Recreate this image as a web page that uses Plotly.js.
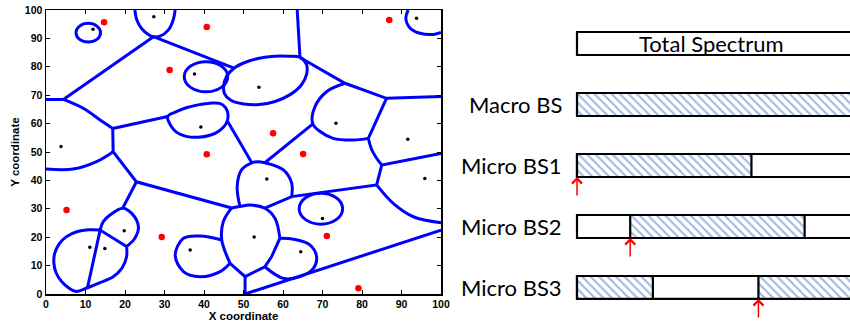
<!DOCTYPE html>
<html>
<head>
<meta charset="utf-8">
<script src="https://cdn.plot.ly/plotly-3.0.1.min.js"></script>
<style>
  html, body { margin: 0; padding: 0; background: #fff; }
  #chart { width: 850px; height: 322px; }
</style>
</head>
<body>
<div id="chart"></div>
<script>
// ---- Network layout (coordinates in the 100 x 100 area) ----
// Base stations (black) and users (red)
const bsX = [11.9, 27.3, 93.8, 37.6, 53.9, 39.2, 73.4, 3.8, 91.6, 55.9, 95.9, 70.0, 19.8, 11.1, 14.9, 36.5, 52.7, 64.5];
const bsY = [93.2, 97.6, 97.1, 77.5, 72.8, 58.8, 60.1, 51.9, 54.5, 40.5, 40.7, 26.6, 22.3, 16.5, 16.0, 15.5, 20.1, 14.9];
const ueX = [14.7, 40.7, 86.9, 31.3, 57.5, 40.7, 65.1, 5.2, 29.3, 71.1, 79.1];
const ueY = [95.7, 94.0, 96.5, 78.9, 56.6, 49.2, 49.3, 29.6, 20.1, 20.4, 2.0];

// Isolated coverage ellipses: centre and semi-axes
const cellCx = [10.7, 40.5, 69.6];
const cellCy = [92.0, 76.5, 30.05];
const cellRx = [3.1, 5.5, 5.5];
const cellRy = [3.3, 5.3, 5.45];

// Straight cell boundaries, as [x, y] polylines
const straightEdges = [
  [[27.2, 90.6], [4.4, 68.5], [0, 68.5]],
  [[27.2, 90.6], [47.6, 79.5]],
  [[63.6, 100], [64.3, 83.3]],
  [[64.3, 83.3], [75.7, 74.2], [86.2, 68.9], [100, 69.5]],
  [[86.2, 68.9], [81.6, 54.8]],
  [[100, 49.5], [85.0, 45.4], [83.7, 38.4], [62.2, 34.3], [55.4, 30.2]],
  [[67.5, 59.8], [55.4, 46.2]],
  [[46.0, 60.7], [52.1, 46.2]],
  [[30.8, 62.5], [16.9, 58.3], [17.0, 50.1], [22.9, 39.5], [47.0, 30.3]],
  [[22.9, 39.5], [19.4, 30.2]],
  [[10.5, 2.2], [13.7, 22.5], [20.4, 16.7]],
  [[50.4, 6.1], [50.4, 0], [100, 22.5]],
  [[59.2, 19.6], [57.1, 13.1], [55.4, 9.6], [50.4, 6.1], [46.6, 10.8]]
];

// Curved cell boundaries, smoothed through the listed points
const curvedEdges = [
  [[22.5, 100], [23.0, 96.5], [24.2, 93.5], [25.9, 91.4], [27.2, 90.6], [28.9, 90.8], [31.0, 93.0], [32.2, 96.5], [32.7, 100]],
  [[91.7, 100], [91.1, 97.1], [92.2, 93.6], [94.7, 91.8], [98.1, 91.4], [100, 92.1]],
  [[64.3, 83.3], [65.9, 81.0], [66.0, 77.5], [64.6, 73.5], [61.8, 70.2], [58.0, 67.8], [54.0, 66.7], [50.0, 66.9],
   [46.8, 68.2], [45.2, 70.5], [45.0, 73.5], [45.8, 76.8], [47.6, 79.5], [50.5, 81.6], [54.0, 83.0], [57.8, 83.7],
   [61.5, 83.7], [64.3, 83.3]],
  [[30.8, 62.5], [33.0, 64.2], [35.5, 65.6], [38.5, 66.6], [41.5, 67.2], [44.0, 67.1], [45.5, 65.5], [46.1, 62.8],
   [45.6, 60.0], [44.0, 57.6], [41.5, 55.9], [38.5, 55.2], [35.5, 55.5], [33.0, 57.0], [31.5, 59.5], [30.8, 62.5]],
  [[75.7, 74.2], [71.1, 71.3], [68.1, 66.0], [67.5, 60.1], [69.4, 57.2], [72.7, 54.8], [77.8, 54.2], [81.6, 54.8]],
  [[81.6, 54.8], [82.5, 50.7], [83.7, 47.8], [85.0, 45.4]],
  [[83.7, 38.4], [87.9, 31.9], [93.0, 27.2], [100, 25.1]],
  [[4.4, 68.5], [9.4, 65.4], [13.7, 61.3], [16.9, 58.3]],
  [[0, 44.0], [6.9, 44.0], [12.8, 46.6], [17.0, 50.1]],
  [[62.2, 34.3], [62.2, 39.0], [60.1, 43.7], [55.4, 46.2], [53.7, 46.6], [52.1, 46.2], [49.5, 43.7], [48.4, 37.8], [49.1, 30.8]],
  [[47.0, 30.3], [49.1, 30.8], [51.6, 31.3], [55.4, 30.2], [58.0, 26.6], [59.2, 19.6]],
  [[47.0, 30.3], [44.9, 25.5], [44.5, 19.0], [46.6, 10.8]],
  [[44.5, 19.0], [39.0, 20.4], [34.8, 19.6], [32.7, 13.7], [34.8, 7.9], [39.0, 6.1], [44.1, 7.9], [46.6, 10.8]],
  [[59.2, 19.6], [62.6, 19.3], [66.8, 17.3], [68.5, 13.1], [67.7, 9.0], [64.3, 6.1], [60.1, 5.5], [55.4, 9.6]],
  [[13.7, 22.5], [14.5, 25.5], [16.2, 27.8], [19.4, 30.2], [21.7, 28.4], [23.4, 23.7], [22.5, 19.6], [20.4, 16.7]],
  [[13.7, 22.5], [10.8, 22.6], [7.8, 21.9], [5.2, 20.2], [3.3, 17.6], [2.2, 14.3], [2.0, 10.8], [2.6, 7.3], [4.0, 4.3],
   [5.7, 2.2], [7.6, 0.9], [10.5, 2.2], [13.7, 4.0], [17.0, 6.1], [19.2, 9.0], [20.4, 13.1], [20.4, 16.7]]
];

// ---- Spectrum allocation (fractions of the total band) ----
const rowNames = ['Total Spectrum', 'Macro BS', 'Micro BS1', 'Micro BS2', 'Micro BS3'];
const macroBand = [0, 1];
const microStart = [0.0, 0.19, 0.648];
const microWidth = 0.623;

const BLUE = '#0000ff';
const traces = [];

function addEdge(pts, smooth) {
  traces.push({
    type: 'scatter', mode: 'lines', xaxis: 'x', yaxis: 'y',
    x: pts.map(p => p[0]), y: pts.map(p => p[1]),
    line: { color: BLUE, width: 3, shape: smooth ? 'spline' : 'linear', smoothing: 1 },
    hoverinfo: 'skip', showlegend: false
  });
}
straightEdges.forEach(p => addEdge(p, false));
curvedEdges.forEach(p => addEdge(p, true));

traces.push({
  type: 'scatter', mode: 'markers', x: bsX, y: bsY,
  marker: { color: '#000', size: 3.5 }, hoverinfo: 'skip', showlegend: false
});
traces.push({
  type: 'scatter', mode: 'markers', x: ueX, y: ueY,
  marker: { color: '#ff0000', size: 6.5 }, hoverinfo: 'skip', showlegend: false
});

const shapes = cellCx.map((cx, i) => ({
  type: 'circle', xref: 'x', yref: 'y',
  x0: cx - cellRx[i], x1: cx + cellRx[i],
  y0: cellCy[i] - cellRy[i], y1: cellCy[i] + cellRy[i],
  line: { color: BLUE, width: 3 }, fillcolor: 'rgba(0,0,0,0)'
}));

// Spectrum rows: plain background bars, then hatched occupied parts
const BAR_T = 0.377;
const outline = { color: '#000', width: 2.2 };
const plainRows = [0, 2, 3, 4];
traces.push({
  type: 'bar', orientation: 'h', xaxis: 'x2', yaxis: 'y2',
  y: plainRows, base: plainRows.map(() => 0), x: plainRows.map(() => 1),
  width: BAR_T, marker: { color: '#fff', line: outline },
  hoverinfo: 'skip', showlegend: false
});

const hatchY = [1], hatchBase = [macroBand[0]], hatchLen = [macroBand[1] - macroBand[0]];
microStart.forEach((s, i) => {
  const e = s + microWidth;
  if (e <= 1) {
    hatchY.push(2 + i); hatchBase.push(s); hatchLen.push(microWidth);
  } else {
    hatchY.push(2 + i); hatchBase.push(s); hatchLen.push(1 - s);
    hatchY.push(2 + i); hatchBase.push(0); hatchLen.push(e - 1);
  }
});
traces.push({
  type: 'bar', orientation: 'h', xaxis: 'x2', yaxis: 'y2',
  y: hatchY, base: hatchBase, x: hatchLen, width: BAR_T,
  marker: {
    color: '#fff', line: outline,
    pattern: { shape: '\\', fillmode: 'overlay', fgcolor: '#3d6fc0', bgcolor: '#fff', size: 6, solidity: 0.35 }
  },
  hoverinfo: 'skip', showlegend: false
});

const LABEL_FONT = { family: 'Lato, "Noto Sans", sans-serif', size: 22, color: '#000' };
const annotations = [];
rowNames.forEach((name, i) => {
  if (i === 0) {
    annotations.push({ xref: 'x2', yref: 'y2', x: 0.48, y: i, text: name, showarrow: false,
      xanchor: 'center', yanchor: 'middle', font: LABEL_FONT });
  } else {
    annotations.push({ xref: 'paper', yref: 'y2', x: 0.663, y: i, text: name, showarrow: false,
      xanchor: 'right', yanchor: 'middle', font: LABEL_FONT });
  }
});
// Red arrows mark where each micro BS band begins
microStart.forEach((s, i) => {
  annotations.push({
    xref: 'x2', yref: 'y2', x: s, y: 2 + i + BAR_T / 2, text: '',
    showarrow: true, ax: 0, ay: 20, axref: 'pixel', ayref: 'pixel',
    arrowhead: 4, arrowsize: 1.3, arrowwidth: 1.5, arrowcolor: '#ff0000', standoff: 0
  });
});

const axisFont = { family: '"Liberation Sans", Arial, sans-serif', size: 10.5, color: '#000', weight: 'bold' };
const titleFont = { family: '"Liberation Sans", Arial, sans-serif', size: 11.5, color: '#000', weight: 'bold' };
const boxAxis = {
  range: [0, 100], dtick: 10, tick0: 0, ticks: 'inside', ticklen: 4, tickwidth: 1, tickcolor: '#000',
  showline: true, linecolor: '#000', linewidth: 1.5, mirror: 'ticks',
  showgrid: false, zeroline: false, tickfont: axisFont, fixedrange: true
};

const layout = {
  width: 850, height: 322,
  margin: { l: 0, r: 0, t: 0, b: 0 },
  paper_bgcolor: '#fff', plot_bgcolor: '#fff',
  showlegend: false, barmode: 'overlay',
  xaxis: Object.assign({}, boxAxis, {
    domain: [46 / 850, 441 / 850], anchor: 'y',
    title: { text: 'X coordinate', font: titleFont, standoff: 1 }
  }),
  yaxis: Object.assign({}, boxAxis, {
    domain: [28 / 322, 312 / 322], anchor: 'x',
    title: { text: 'Y coordinate', font: titleFont, standoff: 3 }
  }),
  xaxis2: { domain: [560 / 850, 1], range: [-0.0607, 0.975], anchor: 'y2', visible: false, fixedrange: true },
  yaxis2: { domain: [0, 1], range: [4.566, -0.713], anchor: 'x2', visible: false, fixedrange: true },
  shapes: shapes,
  annotations: annotations
};

Plotly.newPlot('chart', traces, layout, { staticPlot: true, displayModeBar: false });
</script>
</body>
</html>
